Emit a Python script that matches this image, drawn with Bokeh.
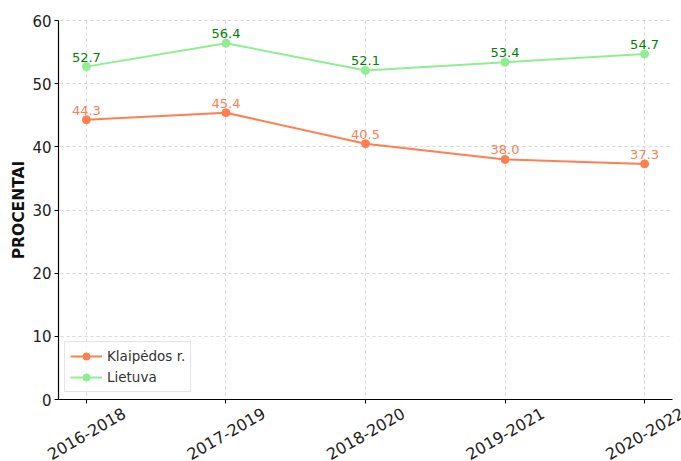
from math import pi
from bokeh.plotting import figure
from bokeh.models import Range1d, FixedTicker, Legend, LegendItem, BoxAnnotation
from bokeh.core.properties import value
from bokeh.embed import file_html
from bokeh.resources import INLINE

periods = ["2016-2018", "2017-2019", "2018-2020", "2019-2021", "2020-2022"]
klaipedos = [44.3, 45.4, 40.5, 38.0, 37.3]
lietuva = [52.7, 56.4, 52.1, 53.4, 54.7]
y_ticks = [0, 10, 20, 30, 40, 50, 60]
y_title = "PROCENTAI"

xs = list(range(len(periods)))
FONT = "DejaVu Sans"

# layout (pixels)
W, H = 681, 461
LEFT, TOP = 58, 20
PLOT_W, PLOT_H = 614, 379          # visible plotting box
X_LO, X_HI = -0.2, 4.2
Y_LO, Y_HI = 0, 60
px_x = PLOT_W / (X_HI - X_LO)
px_y = PLOT_H / (Y_HI - Y_LO)
# the frame is stretched to the figure edges so that axis and tick labels can be drawn in it
x_start = X_LO - LEFT / px_x
x_end = X_HI + (W - LEFT - PLOT_W) / px_x
y_start = Y_LO - (H - TOP - PLOT_H) / px_y
y_end = Y_HI + TOP / px_y

p = figure(width=W, height=H, output_backend="svg", toolbar_location=None,
           x_range=Range1d(x_start, x_end), y_range=Range1d(y_start, y_end),
           min_border_left=0, min_border_right=0, min_border_top=0, min_border_bottom=0)
p.outline_line_color = None
p.background_fill_color = "white"
p.border_fill_color = "white"

for g in (p.xgrid[0], p.ygrid[0]):
    g.grid_line_color = "#cccccc"
    g.grid_line_dash = "3 3"
    g.grid_line_width = 0.8

# blank out the stretched parts of the frame
for box in (BoxAnnotation(top=Y_LO), BoxAnnotation(left=X_HI), BoxAnnotation(right=X_LO),
            BoxAnnotation(bottom=Y_HI + 1 / px_y)):
    box.fill_color = "white"
    box.fill_alpha = 1
    box.line_color = None
    box.level = "underlay"
    p.add_layout(box)

for ax in (p.xaxis[0], p.yaxis[0]):
    ax.axis_line_color = "black"
    ax.axis_line_width = 1.2
    ax.major_tick_line_color = "black"
    ax.major_tick_out = 4
    ax.major_tick_in = 0
    ax.minor_tick_line_color = None
    ax.major_label_text_font = FONT
    ax.major_label_text_font_size = "15px"
    ax.major_label_text_color = "#222222"
    ax.major_label_standoff = 3

p.xaxis.ticker = FixedTicker(ticks=xs)
p.xaxis.fixed_location = Y_LO
p.xaxis.bounds = (X_LO, X_HI)
p.xaxis.major_label_overrides = {i: "" for i in xs}
p.xaxis.major_label_text_font_size = "0px"
p.yaxis.ticker = FixedTicker(ticks=y_ticks)
p.yaxis.fixed_location = X_LO
p.yaxis.bounds = (Y_LO, Y_HI)

# y-axis title
p.text([X_LO], [(Y_LO + Y_HI) / 2], text=[y_title], angle=pi / 2, text_align="center",
       text_baseline="middle", x_offset=-40, text_color="#111111",
       text_font_size="15.5px", text_font_style="bold", text_font=value(FONT))

# rotated category labels, centred under each tick
p.text(xs, [Y_LO] * len(xs), text=periods, angle=pi / 6, text_align="center",
       text_baseline="middle", y_offset=34, text_color="#222222",
       text_font_size="16px", text_font=value(FONT))

l1 = p.line(xs, klaipedos, line_color="#FF7F50", line_width=2)
s1 = p.scatter(xs, klaipedos, size=8, fill_color="#FF7F50", line_color="#FF7F50")
l2 = p.line(xs, lietuva, line_color="#90EE90", line_width=2)
s2 = p.scatter(xs, lietuva, size=8, fill_color="#90EE90", line_color="#90EE90")

p.text(xs, klaipedos, text=[f"{v:.1f}" for v in klaipedos], text_align="center",
       text_baseline="bottom", y_offset=-5, text_color="#FF7F50",
       text_font_size="13px", text_font=value(FONT))
p.text(xs, lietuva, text=[f"{v:.1f}" for v in lietuva], text_align="center",
       text_baseline="bottom", y_offset=-5, text_color="green",
       text_font_size="13px", text_font=value(FONT))

legend = Legend(items=[LegendItem(label="Klaipėdos r.", renderers=[l1, s1]),
                       LegendItem(label="Lietuva", renderers=[l2, s2])],
                location=(LEFT + 6, H - TOP - PLOT_H + 7))
legend.label_text_font = FONT
legend.label_text_font_size = "13.5px"
legend.label_text_color = "#333333"
legend.border_line_color = "#cccccc"
legend.background_fill_alpha = 0.8
legend.margin = 0
legend.padding = 5
legend.spacing = 3
legend.glyph_width = 32
legend.label_height = 18
legend.glyph_height = 18
p.add_layout(legend)

open("out.html", "w").write(file_html(p, INLINE))
